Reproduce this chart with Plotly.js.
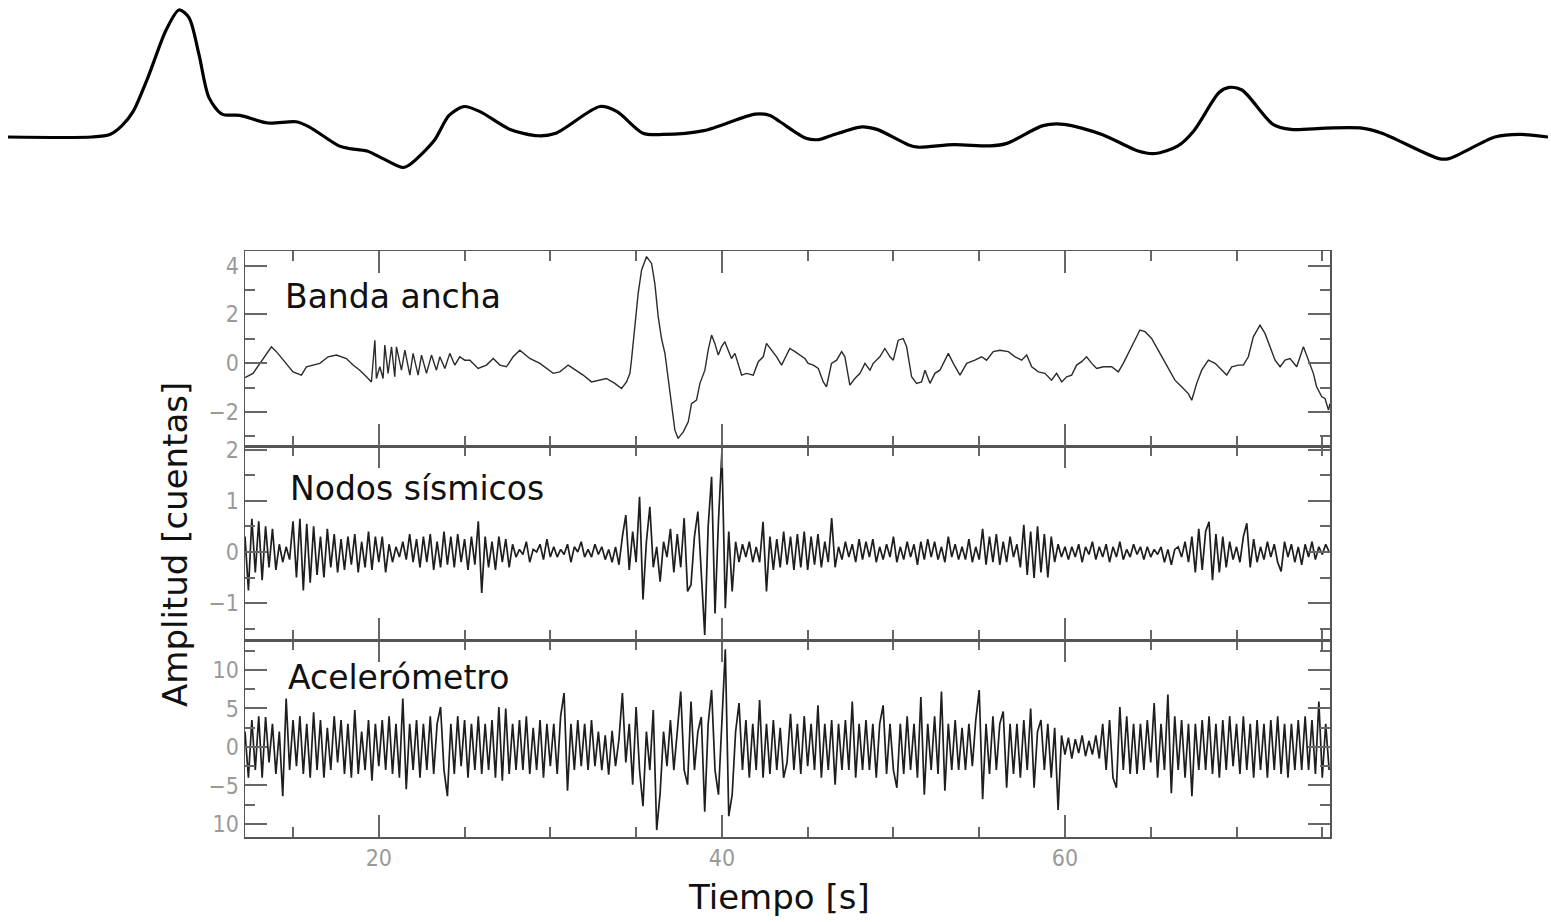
<!DOCTYPE html>
<html>
<head>
<meta charset="utf-8">
<script src="https://cdn.plot.ly/plotly-3.0.1.min.js"></script>
<style>html,body{margin:0;padding:0;background:#fff;}#chart{width:1551px;height:922px;}</style>
</head>
<body>
<div id="chart"></div>
<script>
// ---- Top envelope curve (arbitrary units) ----
const envPos = [0.0,5.45,6.62,7.40,8.12,9.09,10.26,11.10,11.75,12.40,13.05,13.90,15.06,16.88,18.70,19.55,21.49,22.14,23.31,24.35,25.65,26.17,27.66,28.64,29.61,30.65,32.60,34.42,35.58,38.44,39.55,41.23,42.53,45.19,48.51,49.48,50.13,51.82,52.66,53.44,55.45,56.43,58.44,59.09,61.43,63.77,64.87,67.21,68.57,71.04,73.38,74.48,75.97,77.01,78.64,79.29,80.13,82.14,83.31,85.58,87.92,89.22,92.92,93.57,96.56,98.18,100.0];
const envVal = [0.0,0.0,0.02,0.09,0.20,0.47,0.84,1.00,0.94,0.65,0.31,0.18,0.17,0.11,0.12,0.08,-0.07,-0.09,-0.11,-0.17,-0.24,-0.21,-0.03,0.17,0.24,0.20,0.06,0.01,0.03,0.24,0.20,0.03,0.02,0.05,0.18,0.17,0.12,-0.01,-0.02,0.01,0.08,0.06,-0.06,-0.08,-0.06,-0.07,-0.05,0.09,0.10,0.02,-0.11,-0.13,-0.07,0.05,0.35,0.39,0.37,0.10,0.06,0.07,0.07,0.03,-0.17,-0.17,0.0,0.02,0.0];

// ---- Banda ancha (time [s], amplitude) ----
const bbTime = [12.2,12.28,12.67,13.06,13.74,14.03,14.42,15.00,15.49,15.78,16.56,17.05,17.53,18.11,18.50,18.89,19.28,19.57,19.77,19.86,20.06,20.25,20.35,20.54,20.74,20.93,21.03,21.32,21.52,21.81,22.00,22.29,22.49,22.78,23.07,23.36,23.56,23.85,24.14,24.43,24.72,25.01,25.31,25.79,26.28,26.67,27.06,27.44,27.83,28.22,28.80,29.39,30.17,30.55,31.04,31.33,31.91,32.40,
32.89,33.27,33.76,34.15,34.44,34.64,34.73,34.93,35.12,35.32,35.61,35.90,36.09,36.29,36.48,36.68,36.87,37.06,37.26,37.45,37.75,38.04,38.23,38.52,38.72,39.01,39.20,39.40,39.59,39.79,39.98,40.17,40.37,40.56,40.76,40.95,41.15,41.44,41.83,42.12,42.41,42.60,42.90,43.19,43.48,43.77,43.96,44.26,44.55,44.84,45.03,45.33,45.62,45.91,46.10,46.39,46.69,46.98,47.17,47.46,47.75,48.05,48.34,48.63,48.82,49.21,49.50,49.80,49.99,50.28,50.57,50.77,51.06,51.35,51.64,51.84,52.13,52.42,52.71,53.20,53.49,
53.88,54.27,54.75,55.14,55.43,55.82,56.21,56.70,57.09,57.47,57.77,58.06,58.45,58.83,59.22,59.51,59.81,60.10,60.39,60.68,60.97,61.26,61.56,61.85,62.24,62.72,63.11,63.40,63.69,63.98,64.37,64.67,65.05,65.54,66.03,66.41,66.80,67.19,67.39,67.68,67.97,68.36,68.75,69.14,69.43,69.72,70.11,70.40,70.69,70.98,71.37,71.66,71.95,72.25,72.54,72.83,73.12,73.51,73.90,74.19,74.48,74.67,74.97,75.16,75.36,75.45];
const bbAmp = [-0.6,-0.56,-0.42,-0.01,0.67,0.47,0.12,-0.36,-0.49,-0.15,-0.01,0.26,0.33,0.19,-0.08,-0.29,-0.56,-0.77,0.94,-0.63,-0.15,-0.63,0.74,-0.42,0.67,-0.56,0.67,-0.29,0.53,-0.49,0.40,-0.49,0.33,-0.42,0.33,-0.29,0.26,-0.22,0.40,-0.08,0.26,0.12,0.12,-0.22,-0.08,0.19,-0.08,-0.15,0.26,0.53,0.19,-0.01,-0.42,-0.36,-0.08,-0.22,-0.49,-0.77,
-0.70,-0.63,-0.83,-1.04,-0.77,-0.42,0.12,1.63,2.86,3.82,4.37,4.09,3.27,1.90,1.01,0.40,-0.70,-1.79,-2.75,-3.09,-2.82,-2.41,-1.66,-1.52,-0.83,-0.29,0.53,1.15,0.81,0.33,0.67,0.88,0.53,0.19,0.40,-0.01,-0.49,-0.42,-0.49,0.06,0.26,0.81,0.53,0.26,-0.08,0.33,0.60,0.47,0.33,0.19,-0.01,-0.08,-0.22,-0.77,-0.97,-0.01,0.12,0.47,0.26,-0.90,-0.63,-0.42,-0.01,-0.29,-0.01,0.26,0.60,0.26,0.12,0.94,1.01,0.67,-0.56,-0.83,-0.77,-0.29,-0.83,-0.42,-0.29,0.40,-0.01,
-0.49,-0.01,0.12,0.26,0.12,0.47,0.53,0.47,0.26,0.12,0.33,-0.15,-0.36,-0.42,-0.70,-0.42,-0.77,-0.56,-0.49,-0.08,0.06,0.26,-0.01,-0.22,-0.15,-0.15,-0.36,-0.01,0.40,0.81,1.36,1.29,1.01,0.40,-0.22,-0.70,-0.97,-1.25,-1.52,-0.83,-0.29,0.12,-0.01,-0.29,-0.49,-0.15,-0.08,-0.08,0.26,1.08,1.56,1.22,0.67,0.12,-0.15,0.12,0.19,-0.15,0.67,0.12,-0.42,-0.97,-1.38,-1.45,-1.93,-1.66];

// ---- Uniformly sampled series (start 12.2 s, step 0.2 s) ----
const sampleStart = 12.2;
const sampleStep = 0.2;
const nodosAmp = [
0.3,-0.75,0.65,-0.4,0.6,-0.55,0.5,-0.3,0.45,-0.35,
0.15,-0.2,0.1,-0.15,0.6,-0.5,0.65,-0.75,0.55,-0.6,
0.5,-0.45,0.3,-0.5,0.45,-0.3,0.35,-0.4,0.25,-0.35,
0.3,-0.25,0.35,-0.4,0.2,-0.3,0.4,-0.35,0.3,-0.2,
0.3,-0.4,0.15,-0.2,0.1,-0.1,0.2,-0.15,0.35,-0.2,
0.25,-0.3,0.3,-0.2,0.35,-0.35,0.2,-0.3,0.4,-0.25,
0.3,-0.3,0.35,-0.2,0.25,-0.35,0.3,-0.25,0.6,-0.8,
0.3,-0.3,0.2,-0.35,0.3,-0.2,0.25,-0.3,0.15,-0.1,
0.05,-0.05,0.2,-0.2,0.05,0.0,0.15,-0.15,0.25,-0.1,
0.1,-0.1,0.05,-0.05,0.15,-0.2,0.1,0.0,0.2,-0.1,
0.05,-0.1,0.15,-0.05,0.1,-0.15,0.05,-0.2,0.1,-0.25,
0.3,0.72,-0.35,0.4,-0.2,1.08,-0.93,0.2,0.88,-0.3,
0.1,-0.58,0.2,-0.1,0.45,-0.4,0.35,-0.3,0.66,-0.77,
-0.64,0.3,0.79,-0.4,-1.62,0.5,1.47,-1.2,0.6,1.96,
-1.1,0.4,-0.77,0.2,-0.2,0.15,-0.1,0.2,-0.2,0.1,
-0.2,0.59,-0.77,0.3,-0.35,0.25,-0.3,0.4,-0.25,0.3,
-0.35,0.35,-0.3,0.4,-0.35,0.3,-0.25,0.35,-0.3,0.2,
-0.2,0.66,-0.3,0.1,-0.15,0.2,-0.1,0.15,-0.2,0.25,
-0.15,0.2,-0.1,0.25,-0.2,0.1,-0.15,0.15,-0.1,0.3,
-0.2,0.1,-0.15,0.2,-0.1,0.15,-0.25,0.2,-0.15,0.25,
-0.1,0.2,-0.15,0.1,-0.2,0.3,-0.1,0.15,-0.15,0.1,
-0.15,0.25,-0.2,0.1,-0.15,0.45,-0.25,0.3,-0.2,0.35,
-0.25,0.2,-0.2,0.3,-0.1,0.15,-0.3,0.53,-0.45,0.4,
-0.51,0.5,-0.4,0.35,-0.5,0.3,-0.2,0.15,-0.1,0.1,
-0.15,0.1,-0.1,0.15,-0.2,0.1,-0.05,0.2,-0.15,0.1,
-0.1,0.15,-0.2,0.1,-0.1,0.2,-0.15,0.05,-0.1,0.15,
-0.05,0.1,-0.15,0.1,-0.1,0.05,-0.05,0.1,-0.2,0.05,
-0.25,0.05,0.1,-0.1,0.2,-0.2,0.3,-0.4,0.45,-0.35,
0.4,0.59,-0.55,0.35,-0.4,0.3,-0.3,0.2,-0.15,0.1,
-0.2,0.3,0.56,-0.3,0.25,-0.2,0.1,-0.15,0.2,-0.1,
0.15,-0.2,-0.38,0.2,-0.1,0.15,-0.2,0.1,-0.25,0.15,
-0.1,0.2,-0.15,0.1,-0.05,0.15,0.0];
const accelAmp = [
2,-4,3.5,-3,4,-4,3.9,-2,3,-3.5,
2,-6.4,6.3,-3,3.5,-2.5,4,-3.5,3,-4,
4.5,-3,3.5,-4,2.5,-3,4,-2,3.5,-3.5,
3,-4,4.8,-3.5,2,-3,3.5,-4.4,3,-2.5,
3.5,-3,4,-3.5,3,-4,6.3,-5.5,3,-3,
3.5,-4,3,-3,4,-3.5,3,5.2,-3,-6.4,
3,-3.5,4,-2.5,3.5,-4,3,-3,4,-3.5,
3,-3,3.5,-4,5.2,-4.4,5,-3.5,3,-3,
3.5,-3,4,-3.5,2.5,-3,3.5,-4,3,-2.5,
3,-3.5,4,7.0,-5.7,3,-3,3.5,-2.5,3,
-3,3.5,-2.5,2,-3,1.5,-3.6,2.1,-2.5,1,
7.0,-2,3,-4.9,5.2,-3,-7.7,2,-3,4.8,
-10.8,-6.0,2,-2.5,3.5,-3,2,7.2,-3,-4.9,
5.9,-3,2,3.9,-8.4,3,7.4,-3,-6.2,3,
12.7,-9.0,-6.2,2,5.7,-3,3.5,-4,3,-3,
6.1,-4,3,-3.5,3.5,-3,2.5,-4,-2,4.3,
-3,3,-3.5,4,-2.5,3,-3,5.4,-4,3,
-3,3.5,-4.9,3,-3,3.5,-3,5.9,-4,3,
-3,3.5,-3,3,-4.0,3,5.4,-3.5,3,-3,
-5.3,3,-3.5,4,-3,3,-4,6.5,-6.2,3,
-3,4,-3.5,7.2,-5.7,3,-3,3.5,-3,2.5,
-3,3,-2.5,3.5,7.4,-6.8,3,-3.5,4,-3,
3,4.6,-5.3,3,-3.5,3,-4,3.5,-3,5.0,
-5.3,2,3.5,-3,3,-4,2.5,-8.2,1.5,-1,
1.2,-1.5,1,-0.8,1.5,-1.2,0.8,-1,1.5,-1.5,
3,-3,3.5,-4,-5.3,5.2,-3,4,-3.5,3,
-3.5,3,-3,3.5,-2,5.7,-4,3,-3,6.8,
-6.0,4,-3,3.5,-4,3,-6.4,3,-3,3.5,
-3,4,-3.5,3,-4,3.5,-3,4,-2.5,3,
-3.5,4,-3,3,-4,3.5,-3,3,-4,3.5,
-3,4,-3.5,3,-4,3,-3,3.5,-3,4,
-3,3.5,-3.5,5.9,-4,3,-3];

// ---- Labels ----
const panelLabels = ["Banda ancha", "Nodos sísmicos", "Acelerómetro"];
const xTitle = "Tiempo [s]";
const yTitle = "Amplitud [cuentas]";
const accelTickVals = [-10, -5, 0, 5, 10];
const accelTickText = ["10", "\u22125", "0", "5", "10"];

const W = 1551, H = 922;
const px = v => v / W;
const py = v => 1 - v / H;

const bbLine = {color: '#2b2b2b', width: 1.4};
const noisyLine = {color: '#1e1e1e', width: 1.7};
const traces = [
  {x: envPos, y: envVal, xaxis: 'x4', yaxis: 'y4', mode: 'lines', line: {color: '#000', width: 3.2, shape: 'spline', smoothing: 0.8}, hoverinfo: 'skip'},
  {x: bbTime, y: bbAmp, xaxis: 'x3', yaxis: 'y3', mode: 'lines', line: bbLine},
  {x0: sampleStart, dx: sampleStep, y: nodosAmp, xaxis: 'x2', yaxis: 'y2', mode: 'lines', line: noisyLine},
  {x0: sampleStart, dx: sampleStep, y: accelAmp, xaxis: 'x', yaxis: 'y', mode: 'lines', line: noisyLine}
];

const tickFont = {family: 'Liberation Sans Narrow, DejaVu Sans Condensed, Arial Narrow, sans-serif', size: 23, color: '#9a9a9a'};
const frame = {showline: true, linecolor: '#555', linewidth: 1.5, mirror: 'allticks', ticks: 'inside', tickcolor: '#666', tickwidth: 2, showgrid: false, zeroline: false, tickfont: tickFont};
const xDom = [px(245), px(1330)];
const xRange = [12.2, 75.45];
function xAx(showLabels) {
  return Object.assign({}, frame, {domain: xDom, range: xRange, tickmode: 'linear', tick0: 0, dtick: 20, ticklen: 22,
    minor: {tick0: 0, dtick: 5, ticklen: 10, tickcolor: '#666', tickwidth: 2, ticks: 'inside', showgrid: false},
    showticklabels: showLabels});
}
function yAx(dom, range, dtick, minorD, extra) {
  return Object.assign({}, frame, {domain: dom, range: range, tickmode: 'linear', tick0: 0, dtick: dtick, ticklen: 22,
    minor: {tick0: 0, dtick: minorD, ticklen: 10, tickcolor: '#666', tickwidth: 2, ticks: 'inside', showgrid: false}}, extra || {});
}

const layout = {
  width: W, height: H,
  margin: {l: 0, r: 0, t: 0, b: 0},
  paper_bgcolor: '#fff', plot_bgcolor: 'rgba(0,0,0,0)',
  showlegend: false,
  xaxis: Object.assign(xAx(true), {anchor: 'y'}),
  yaxis: yAx([py(837), py(640)], [-11.7, 13.9], 5, 2.5, {anchor: 'x', tickmode: 'array', tickvals: accelTickVals, ticktext: accelTickText}),
  xaxis2: Object.assign(xAx(false), {anchor: 'y2', matches: 'x'}),
  yaxis2: yAx([py(640), py(446)], [-1.72, 2.07], 1, 0.5, {anchor: 'x2'}),
  xaxis3: Object.assign(xAx(false), {anchor: 'y3', matches: 'x'}),
  yaxis3: yAx([py(446), py(251)], [-3.4, 4.6], 2, 1, {anchor: 'x3'}),
  xaxis4: {domain: [px(8), px(1548)], range: [0, 100], visible: false, anchor: 'y4'},
  yaxis4: {domain: [py(175), py(5)], range: [-0.299, 1.039], visible: false, anchor: 'x4'},
  annotations: [
    {text: panelLabels[0], xref: 'paper', yref: 'paper', x: px(283), y: py(296), xanchor: 'left', yanchor: 'middle', showarrow: false, font: {family: 'DejaVu Sans, Verdana, sans-serif', size: 33, color: '#111'}},
    {text: panelLabels[1], xref: 'paper', yref: 'paper', x: px(288), y: py(488), xanchor: 'left', yanchor: 'middle', showarrow: false, font: {family: 'DejaVu Sans, Verdana, sans-serif', size: 33, color: '#111'}},
    {text: panelLabels[2], xref: 'paper', yref: 'paper', x: px(286), y: py(677), xanchor: 'left', yanchor: 'middle', showarrow: false, font: {family: 'DejaVu Sans, Verdana, sans-serif', size: 33, color: '#111'}},
    {text: xTitle, xref: 'paper', yref: 'paper', x: px(779), y: py(897), xanchor: 'center', yanchor: 'middle', showarrow: false, font: {family: 'DejaVu Sans, Verdana, sans-serif', size: 34, color: '#111'}},
    {text: yTitle, xref: 'paper', yref: 'paper', x: px(175), y: py(545), xanchor: 'center', yanchor: 'middle', textangle: -90, showarrow: false, font: {family: 'DejaVu Sans, Verdana, sans-serif', size: 34, color: '#111'}}
  ]
};

Plotly.newPlot('chart', traces, layout, {displayModeBar: false, staticPlot: true});
</script>
</body>
</html>
